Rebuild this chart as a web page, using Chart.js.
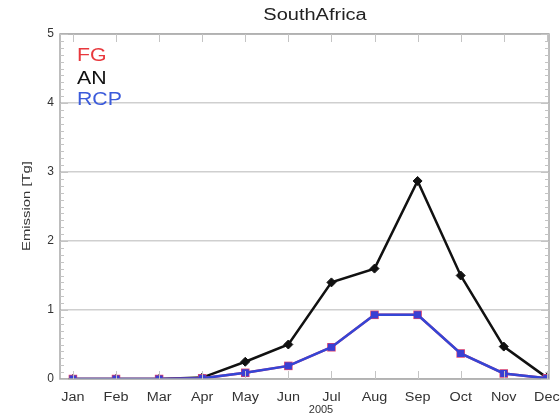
<!DOCTYPE html>
<html>
<head>
<meta charset="utf-8">
<script src="https://cdn.jsdelivr.net/npm/chart.js@4/dist/chart.umd.min.js"></script>
<style>
  html, body { margin: 0; padding: 0; background: #fff; }
  #wrap { width: 560px; height: 420px; }
</style>
</head>
<body>
<div id="wrap"><canvas id="c" width="560" height="420"></canvas></div>
<script>
// Monthly emissions, South Africa, 2005 (Tg)
const months = ['Jan','Feb','Mar','Apr','May','Jun','Jul','Aug','Sep','Oct','Nov','Dec'];
const fgValues  = [0, 0, 0, 0.01, 0.09, 0.19, 0.46, 0.93, 0.93, 0.37, 0.08, 0.01];
const anValues  = [0, 0, 0, 0.02, 0.25, 0.50, 1.40, 1.60, 2.87, 1.50, 0.47, 0.02];
const rcpValues = [0, 0, 0, 0.01, 0.09, 0.19, 0.46, 0.93, 0.93, 0.37, 0.08, 0.01];
const yTicks = [0, 1, 2, 3, 4, 5];
const seriesNames = ['FG', 'AN', 'RCP'];

const pts = arr => arr.map((v, i) => ({ x: i, y: v }));

const FONT = 'Liberation Sans, Arial, sans-serif';
const AXIS_GRAY = '#a8a8a8';

// draws text widened along its baseline (wide plotting font look)
function wideText(ctx, str, x, y, sx) {
  ctx.save();
  ctx.translate(x, y);
  ctx.scale(sx, 1);
  ctx.fillText(str, 0, 0);
  ctx.restore();
}

const decor = {
  id: 'decor',
  afterDraw(chart) {
    const { ctx, chartArea: a, scales: { x, y } } = chart;
    ctx.save();
    // frame
    ctx.strokeStyle = AXIS_GRAY;
    ctx.lineWidth = 1.5;
    ctx.strokeRect(a.left, a.top, a.right - a.left, a.bottom - a.top);
    // minor ticks on left and right axes
    ctx.lineWidth = 1;
    ctx.strokeStyle = '#c4c4c4';
    for (let k = 0; k <= 50; k++) {
      const py = Math.round(y.getPixelForValue(k / 10)) + 0.5;
      const len = k % 10 === 0 ? 8 : 4;
      ctx.beginPath();
      ctx.moveTo(a.left, py); ctx.lineTo(a.left + len, py);
      ctx.moveTo(a.right, py); ctx.lineTo(a.right - len, py);
      ctx.stroke();
    }
    // month ticks on top and bottom axes
    months.forEach((m, i) => {
      const px = Math.round(x.getPixelForValue(i)) + 0.5;
      ctx.beginPath();
      ctx.moveTo(px, a.top); ctx.lineTo(px, a.top + 8);
      ctx.moveTo(px, a.bottom); ctx.lineTo(px, a.bottom - 8);
      ctx.stroke();
    });
    ctx.textAlign = 'center';
    ctx.textBaseline = 'middle';
    // month labels
    ctx.fillStyle = '#333';
    ctx.font = '12px ' + FONT;
    months.forEach((m, i) => {
      wideText(ctx, m, x.getPixelForValue(i), 398, 1.2);
    });
    // title
    ctx.fillStyle = '#222';
    ctx.font = '16px ' + FONT;
    wideText(ctx, 'SouthAfrica', 315, 16, 1.25);
    // year label under the month axis
    ctx.font = '11px ' + FONT;
    ctx.fillStyle = '#333';
    ctx.fillText('2005', 321, 410);
    // y axis title
    ctx.save();
    ctx.translate(27, 206);
    ctx.rotate(-Math.PI / 2);
    ctx.font = '11px ' + FONT;
    wideText(ctx, 'Emission [Tg]', 0, 0, 1.35);
    ctx.restore();
    // series key
    ctx.font = '19px ' + FONT;
    ctx.textAlign = 'left';
    const keyColors = ['#e8383d', '#111111', '#3b5bdb'];
    const keyY = [56, 78.5, 100];
    seriesNames.forEach((n, i) => {
      ctx.fillStyle = keyColors[i];
      wideText(ctx, n, 77, keyY[i], 1.12);
    });
    ctx.restore();
  }
};

new Chart(document.getElementById('c'), {
  type: 'line',
  data: {
    datasets: [
      {
        label: seriesNames[1], data: pts(anValues),
        borderColor: '#111', backgroundColor: '#111', borderWidth: 2.5,
        pointStyle: 'rectRot', pointRadius: 4.5, pointBorderWidth: 1, tension: 0, order: 3
      },
      {
        label: seriesNames[0], data: pts(fgValues),
        borderColor: '#e0406a', backgroundColor: '#e0406a', borderWidth: 2.5,
        pointStyle: 'rect', pointRadius: 6, pointBorderWidth: 0, tension: 0, order: 2
      },
      {
        label: seriesNames[2], data: pts(rcpValues),
        borderColor: '#3446d6', backgroundColor: '#3a3fd3', borderWidth: 2.5,
        pointStyle: 'rect', pointRadius: 5, pointBorderWidth: 0, tension: 0, order: 1
      }
    ]
  },
  options: {
    responsive: false,
    animation: false,
    layout: { padding: { top: 34, right: 11, left: 0, bottom: 0 } },
    plugins: { legend: { display: false }, title: { display: false }, tooltip: { enabled: false } },
    scales: {
      x: {
        type: 'linear', min: -0.3, max: 11.05,
        afterBuildTicks: s => { s.ticks = months.map((m, i) => ({ value: i })); },
        afterFit: s => { s.height = 41; },
        grid: { display: false, drawTicks: false },
        border: { display: false },
        ticks: { display: false }
      },
      y: {
        min: 0, max: 5,
        afterBuildTicks: s => { s.ticks = yTicks.map(v => ({ value: v })); },
        afterFit: s => { s.width = 60; },
        grid: { color: '#cfcfcf', lineWidth: 1.5, drawTicks: false },
        border: { display: false },
        ticks: {
          padding: 6, color: '#333', font: { family: FONT, size: 12 },
          callback: v => String(v)
        }
      }
    }
  },
  plugins: [decor]
});
</script>
</body>
</html>
